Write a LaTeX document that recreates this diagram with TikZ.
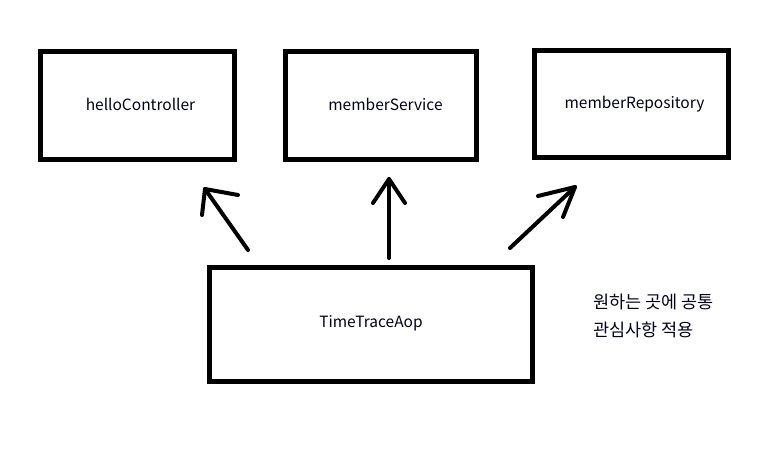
\documentclass[tikz,border=0pt]{standalone}
\usepackage{fontspec}
\setmainfont{Noto Sans CJK KR}
\begin{document}
\begin{tikzpicture}[x=1pt,y=-1pt,
  box/.style={draw=black,line width=5pt,fill=none},
  lbl/.style={font=\fontsize{15.5}{18}\selectfont,text=black!90!blue,inner sep=0pt},
  arr/.style={draw=black,line width=4pt,line cap=round,line join=round}]
\useasboundingbox[fill=white] (0,0) rectangle (777,451);
% boxes
\draw[box] (40.5,51.5) rectangle (234.5,159.5);
\draw[box] (285.5,51.5) rectangle (476.5,159.5);
\draw[box] (534.5,50.5) rectangle (728.5,157.5);
\draw[box] (209.5,267.5) rectangle (532.5,381.5);
% labels
\node[lbl] (hc) at (140.5,104) {helloController};
\node[lbl] (ms) at (385.5,104) {memberService};
\node[lbl] (mr) at (634.5,104) {memberRepository};
\node[lbl] (tt) at (371,323) {TimeTraceAop};
\node[lbl,anchor=west,align=left,font=\fontsize{17.5}{28}\selectfont] (note) at (593,316) {원하는 곳에 공통\\관심사항 적용};
% arrows
\coordinate (s1) at (248,250); \coordinate (t1) at (205,189);
\coordinate (a1) at (202,215); \coordinate (b1) at (238,195);
\coordinate (s2) at (389,258); \coordinate (t2) at (389,179);
\coordinate (a2) at (373,203); \coordinate (b2) at (405,203);
\coordinate (s3) at (510,248); \coordinate (t3) at (575,187);
\coordinate (a3) at (538,196); \coordinate (b3) at (563,217);
\draw[arr] (s1) -- (t1); \draw[arr] (a1) -- (t1) -- (b1);
\draw[arr] (s2) -- (t2); \draw[arr] (a2) -- (t2) -- (b2);
\draw[arr] (s3) -- (t3); \draw[arr] (a3) -- (t3) -- (b3);
\end{tikzpicture}
\end{document}
